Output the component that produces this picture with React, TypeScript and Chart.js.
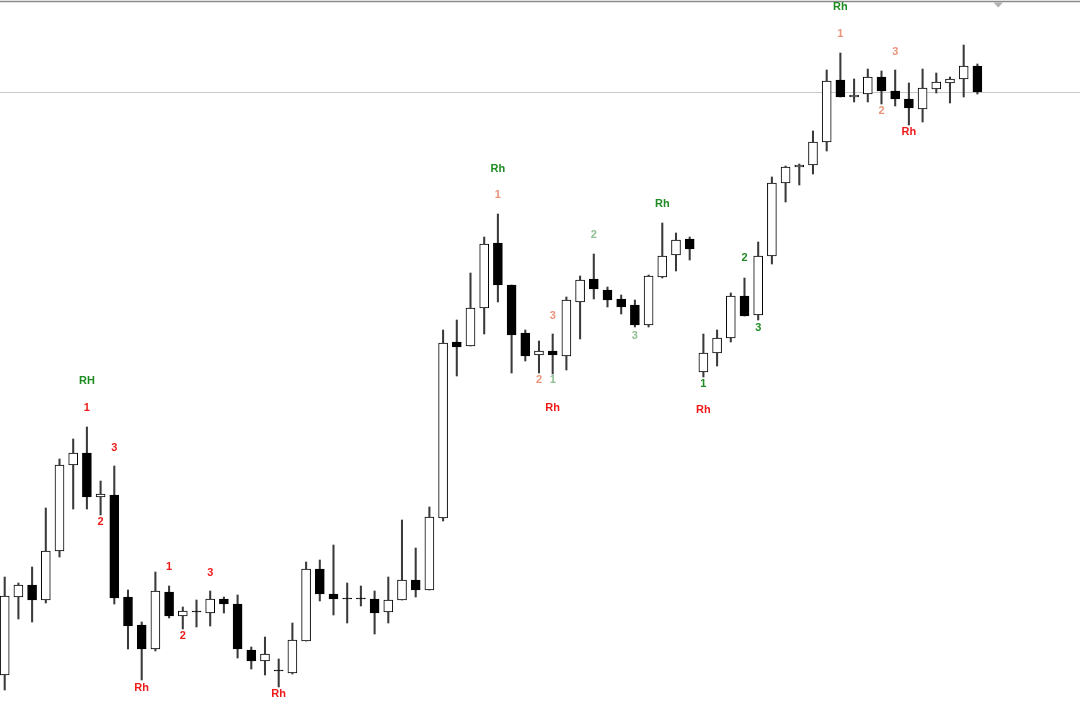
import React, { useEffect, useRef } from "react";
import { Chart, registerables } from "chart.js";

Chart.register(...registerables);

// OHLC series (one entry per session)
const opens = [45, 123, 135, 120, 169, 255, 267, 223, 225, 123, 95, 71, 128, 104, 109, 107, 121, 116, 70, 59, 50, 47, 79, 151, 126, 122, 122, 121, 108, 120, 140, 130, 202, 378, 374, 412, 477, 435, 387, 365, 369, 364, 418, 441, 430, 421, 415, 395, 443, 465, 481, 348, 367, 382, 424, 405, 464, 537, 553, 555, 578, 640, 623, 626, 643, 629, 621, 611, 631, 637, 641, 654];
const highs = [143, 137, 153, 212, 261, 281, 293, 239, 254, 130, 98, 148, 134, 113, 120, 129, 123, 125, 73, 83, 61, 97, 158, 160, 175, 137, 134, 129, 143, 200, 172, 213, 390, 400, 447, 483, 506, 435, 390, 379, 386, 423, 444, 466, 433, 425, 420, 445, 497, 487, 483, 386, 390, 427, 442, 478, 543, 554, 556, 589, 650, 667, 641, 651, 649, 650, 637, 651, 647, 643, 675, 656];
const lows = [30, 101, 98, 117, 163, 211, 211, 205, 116, 71, 40, 69, 102, 91, 93, 94, 107, 62, 51, 45, 33, 46, 79, 119, 105, 97, 114, 86, 97, 120, 123, 130, 199, 344, 374, 386, 418, 347, 359, 347, 346, 350, 381, 421, 413, 406, 393, 393, 442, 449, 460, 343, 354, 378, 404, 400, 456, 518, 535, 546, 569, 623, 618, 618, 616, 614, 595, 598, 627, 617, 623, 626];
const closes = [124, 135, 120, 169, 255, 267, 223, 226, 122, 94, 71, 129, 104, 109, 108, 121, 116, 71, 59, 66, 49, 80, 151, 126, 121, 121, 121, 107, 120, 140, 130, 203, 377, 373, 412, 476, 435, 385, 364, 369, 365, 420, 440, 431, 420, 413, 395, 444, 464, 480, 471, 367, 382, 424, 404, 464, 537, 553, 555, 578, 639, 623, 625, 643, 629, 621, 612, 632, 638, 641, 654, 628];

// Pattern annotations
const markText = ["RH", "1", "3", "2", "1", "3", "2", "Rh", "Rh", "Rh", "1", "2", "Rh", "3", "2", "1", "Rh", "3", "2", "3", "1", "Rh", "Rh", "1", "3", "2", "Rh"];
const markIndex = [6, 6, 8, 7, 12, 15, 13, 10, 20, 36, 36, 43, 48, 40, 39, 40, 40, 46, 54, 55, 51, 51, 61, 61, 65, 64, 66];
const markPrice = [339, 312, 272, 198, 153, 147, 84, 32, 26, 551, 525, 485, 516, 404, 340, 340, 312, 384, 462, 392, 336, 310, 713, 686, 668, 609, 588];
const markKind = ["g", "r", "r", "r", "r", "r", "r", "r", "r", "g", "s", "lg", "g", "s", "s", "lg", "r", "lg", "g", "g", "g", "r", "g", "s", "s", "s", "r"];

const levelPrice = 628;

const kindColor: Record<string, string> = {
  r: "#ee1a1a",
  g: "#1e8c22",
  s: "#e8957a",
  lg: "#8dbf92",
};

export default function App() {
  const ref = useRef<HTMLCanvasElement | null>(null);

  useEffect(() => {
    if (!ref.current) return;
    const idx = opens.map((_, i) => i);
    const bodies = idx.map((i) => ({ x: i, y: [opens[i], closes[i]] }));
    const wicks = idx.map((i) => ({ x: i, y: [lows[i], highs[i]] }));
    const bodyColors = idx.map((i) => (closes[i] > opens[i] ? "#ffffff" : "#000000"));

    const decor = {
      id: "decor",
      beforeDatasetsDraw(chart: any) {
        const { ctx, scales, chartArea } = chart;
        const y = Math.round(scales.y.getPixelForValue(levelPrice)) + 0.5;
        ctx.save();
        ctx.strokeStyle = "#c9c9c9";
        ctx.lineWidth = 1;
        ctx.beginPath();
        ctx.moveTo(chartArea.left, y);
        ctx.lineTo(chartArea.right, y);
        ctx.stroke();
        ctx.restore();
      },
      afterDatasetsDraw(chart: any) {
        const { ctx, scales, chartArea } = chart;
        ctx.save();
        // top border line
        ctx.strokeStyle = "#8a8a8a";
        ctx.lineWidth = 1.5;
        ctx.beginPath();
        ctx.moveTo(chartArea.left, 1.5);
        ctx.lineTo(chartArea.right, 1.5);
        ctx.stroke();
        // small marker triangle
        ctx.fillStyle = "#b0b0b0";
        ctx.beginPath();
        ctx.moveTo(993.5, 2.5);
        ctx.lineTo(1003, 2.5);
        ctx.lineTo(998.3, 7.5);
        ctx.closePath();
        ctx.fill();
        // annotations
        ctx.font = "bold 11px 'Liberation Sans', Arial, sans-serif";
        ctx.textAlign = "center";
        ctx.textBaseline = "middle";
        markText.forEach((t, k) => {
          ctx.fillStyle = kindColor[markKind[k]];
          ctx.fillText(t, scales.x.getPixelForValue(markIndex[k]), scales.y.getPixelForValue(markPrice[k]));
        });
        ctx.restore();
      },
    };

    const chart = new Chart(ref.current, {
      type: "bar",
      data: {
        datasets: [
          {
            data: bodies as any,
            backgroundColor: bodyColors,
            borderColor: "#000000",
            borderWidth: 1,
            borderSkipped: false,
            barThickness: 9,
            grouped: false,
            order: 0,
          } as any,
          {
            data: wicks as any,
            backgroundColor: "#3a3a3a",
            borderWidth: 0,
            barThickness: 1.4,
            grouped: false,
            order: 1,
          } as any,
        ],
      },
      options: {
        responsive: false,
        animation: false,
        layout: { padding: 0 },
        plugins: { legend: { display: false }, tooltip: { enabled: false } },
        scales: {
          x: { type: "linear", min: -0.343, max: 78.49, offset: false, display: false, grid: { offset: false } },
          y: { type: "linear", min: 0, max: 720, display: false },
        },
      },
      plugins: [decor],
    });
    return () => chart.destroy();
  }, []);

  return (
    <div style={{ position: "absolute", left: 0, top: 0, width: 1080, height: 720, background: "#ffffff" }}>
      <canvas ref={ref} width={1080} height={720} style={{ display: "block" }} />
    </div>
  );
}
